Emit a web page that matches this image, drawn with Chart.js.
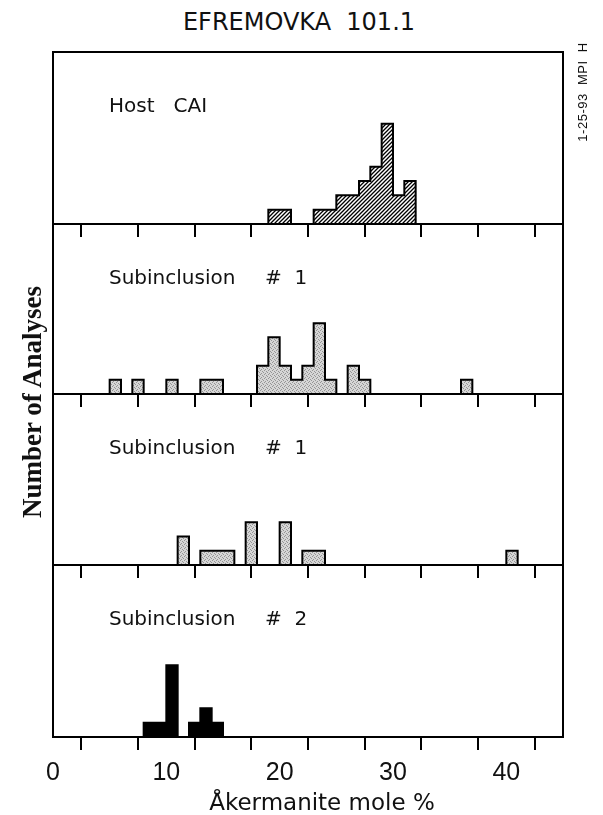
<!DOCTYPE html>
<html>
<head>
<meta charset="utf-8">
<title>Efremovka 101.1</title>
<script src="https://cdn.jsdelivr.net/npm/chart.js@4.4.1/dist/chart.umd.min.js"></script>
<style>
    body { margin: 0; background: #fff; }
    #page { position: relative; width: 603px; height: 815px; overflow: hidden; color: #111; font-family: "DejaVu Sans", sans-serif; }
    canvas { position: absolute; left: 0; }
    .txt { position: absolute; white-space: pre; }
    #title { top: 10px; left: 0; width: 598px; text-align: center; font-size: 24px; line-height: 24px; }
    #xTitle { top: 791px; left: 172px; width: 300px; text-align: center; font-size: 23px; line-height: 23px; }
    #yTitle { left: -118px; top: 387px; width: 300px; height: 30px; line-height: 30px; text-align: center;
              font-family: "Liberation Serif", serif; font-weight: bold; font-size: 27px; transform: rotate(-90deg); }
    #stamp { left: 513px; top: 84px; width: 140px; height: 16px; line-height: 16px; text-align: center;
             font-family: "Liberation Sans", sans-serif; font-size: 13px; letter-spacing: 0.5px; transform: rotate(-90deg); }
</style>
</head>
<body>
<div id="page">
    <div class="txt" id="title">EFREMOVKA  101.1</div>
    <canvas id="panel0"></canvas>
    <canvas id="panel1"></canvas>
    <canvas id="panel2"></canvas>
    <canvas id="panel3"></canvas>
    <div class="txt" id="xTitle">Åkermanite mole %</div>
    <div class="txt" id="yTitle">Number of Analyses</div>
    <div class="txt" id="stamp">1-25-93  MPI  H</div>
</div>
<script>
// Left edge of each 1 mol% bin and the number of analyses in it
const hostBins = [19, 20, 23, 24, 25, 26, 27, 28, 29, 30, 31];
const hostCounts = [1, 1, 1, 1, 2, 2, 3, 4, 7, 2, 3];

const sub1aBins = [5, 7, 10, 13, 14, 18, 19, 20, 21, 22, 23, 24, 26, 27, 36];
const sub1aCounts = [1, 1, 1, 1, 1, 2, 4, 2, 1, 2, 5, 1, 2, 1, 1];

const sub1bBins = [11, 13, 14, 15, 17, 20, 22, 23, 40];
const sub1bCounts = [2, 1, 1, 1, 3, 3, 1, 1, 1];

const sub2Bins = [8, 9, 10, 12, 13, 14];
const sub2Counts = [1, 1, 5, 1, 2, 1];

const panelNames = ["Host   CAI", "Subinclusion", "Subinclusion", "Subinclusion"];
const panelNumbers = ["", "#  1", "#  1", "#  2"];
const tickLabels = ["0", "10", "20", "30", "40"];

// layout (page pixels)
const panelTop = [52, 224, 394, 565];
const panelBottom = [224, 394, 565, 737];

// fill patterns for the histograms
function makeTile(size, draw) {
    const c = document.createElement("canvas");
    c.width = size;
    c.height = size;
    draw(c.getContext("2d"));
    return c;
}

const hatchTile = makeTile(4, g => {
    g.fillStyle = "#fff";
    g.fillRect(0, 0, 4, 4);
    g.strokeStyle = "#000";
    g.lineWidth = 1.3;
    g.beginPath();
    g.moveTo(-1, 5); g.lineTo(5, -1);
    g.moveTo(-1, 1); g.lineTo(1, -1);
    g.moveTo(3, 5); g.lineTo(5, 3);
    g.stroke();
});

const stippleTile = makeTile(4, g => {
    g.fillStyle = "#d6d6d6";
    g.fillRect(0, 0, 4, 4);
    g.fillStyle = "#959595";
    [[0, 0], [2, 1], [1, 3], [3, 2]].forEach(p => g.fillRect(p[0], p[1], 1, 1));
});

function renderPanel(i, bins, counts, tile) {
    const canvas = document.getElementById("panel" + i);
    const last = i === 3;
    const axisHeight = last ? 60 : 14;
    canvas.width = 603;
    canvas.height = panelBottom[i] - panelTop[i] + 2 + axisHeight;
    canvas.style.top = (panelTop[i] - 2) + "px";

    const ctx = canvas.getContext("2d");
    const fill = tile ? ctx.createPattern(tile, "repeat") : "#000";

    const bars = bins.map((b, k) => ({ x: b + 0.5, y: counts[k] }));

    // stepped outline over every bin edge 0..45
    const outline = [];
    for (let e = 0; e < 45; e++) {
        const k = bins.indexOf(e);
        outline.push({ x: e, y: k >= 0 ? counts[k] : 0 });
    }
    outline.push({ x: 45, y: 0 });

    const framePlugin = {
        id: "frame" + i,
        afterDraw(chart) {
            const a = chart.chartArea;
            const c = chart.ctx;
            c.save();
            c.strokeStyle = "#000";
            c.lineWidth = 2;
            c.strokeRect(a.left, a.top, a.right - a.left, a.bottom - a.top);
            c.fillStyle = "#111";
            c.font = '20px "DejaVu Sans"';
            c.textBaseline = "alphabetic";
            c.fillText(panelNames[i], a.left + 56, a.top + 60);
            c.fillText(panelNumbers[i], a.left + 212, a.top + 60);
            c.restore();
        }
    };

    new Chart(canvas, {
        type: "bar",
        data: {
            datasets: [{
                type: "line",
                data: outline,
                stepped: "before",
                borderColor: "#000",
                borderWidth: 2,
                pointRadius: 0,
                fill: false,
                order: 0
            }, {
                type: "bar",
                data: bars,
                backgroundColor: fill,
                borderWidth: 0,
                barPercentage: 1,
                categoryPercentage: 1,
                order: 1
            }]
        },
        options: {
            responsive: false,
            animation: false,
            layout: {
                padding: { left: 53, right: 40, top: 2, bottom: 0 }
            },
            scales: {
                x: {
                    type: "linear",
                    min: 0,
                    max: 45,
                    offset: false,
                    grid: {
                        drawOnChartArea: false,
                        drawTicks: true,
                        tickLength: 13,
                        lineWidth: 2,
                        color: "#000"
                    },
                    border: { display: true, width: 2, color: "#000" },
                    ticks: {
                        display: last,
                        stepSize: 5,
                        padding: 8,
                        color: "#111",
                        maxRotation: 0,
                        autoSkip: false,
                        font: { family: "Liberation Sans", size: 25 },
                        callback: v => tickLabels.includes(String(v)) ? String(v) : ""
                    },
                    afterFit: scale => { scale.height = axisHeight; }
                },
                y: {
                    display: false,
                    min: 0,
                    max: 12
                }
            },
            plugins: {
                legend: { display: false },
                tooltip: { enabled: false }
            }
        },
        plugins: [framePlugin]
    });
}

renderPanel(0, hostBins, hostCounts, hatchTile);
renderPanel(1, sub1aBins, sub1aCounts, stippleTile);
renderPanel(2, sub1bBins, sub1bCounts, stippleTile);
renderPanel(3, sub2Bins, sub2Counts, null);
</script>
</body>
</html>
